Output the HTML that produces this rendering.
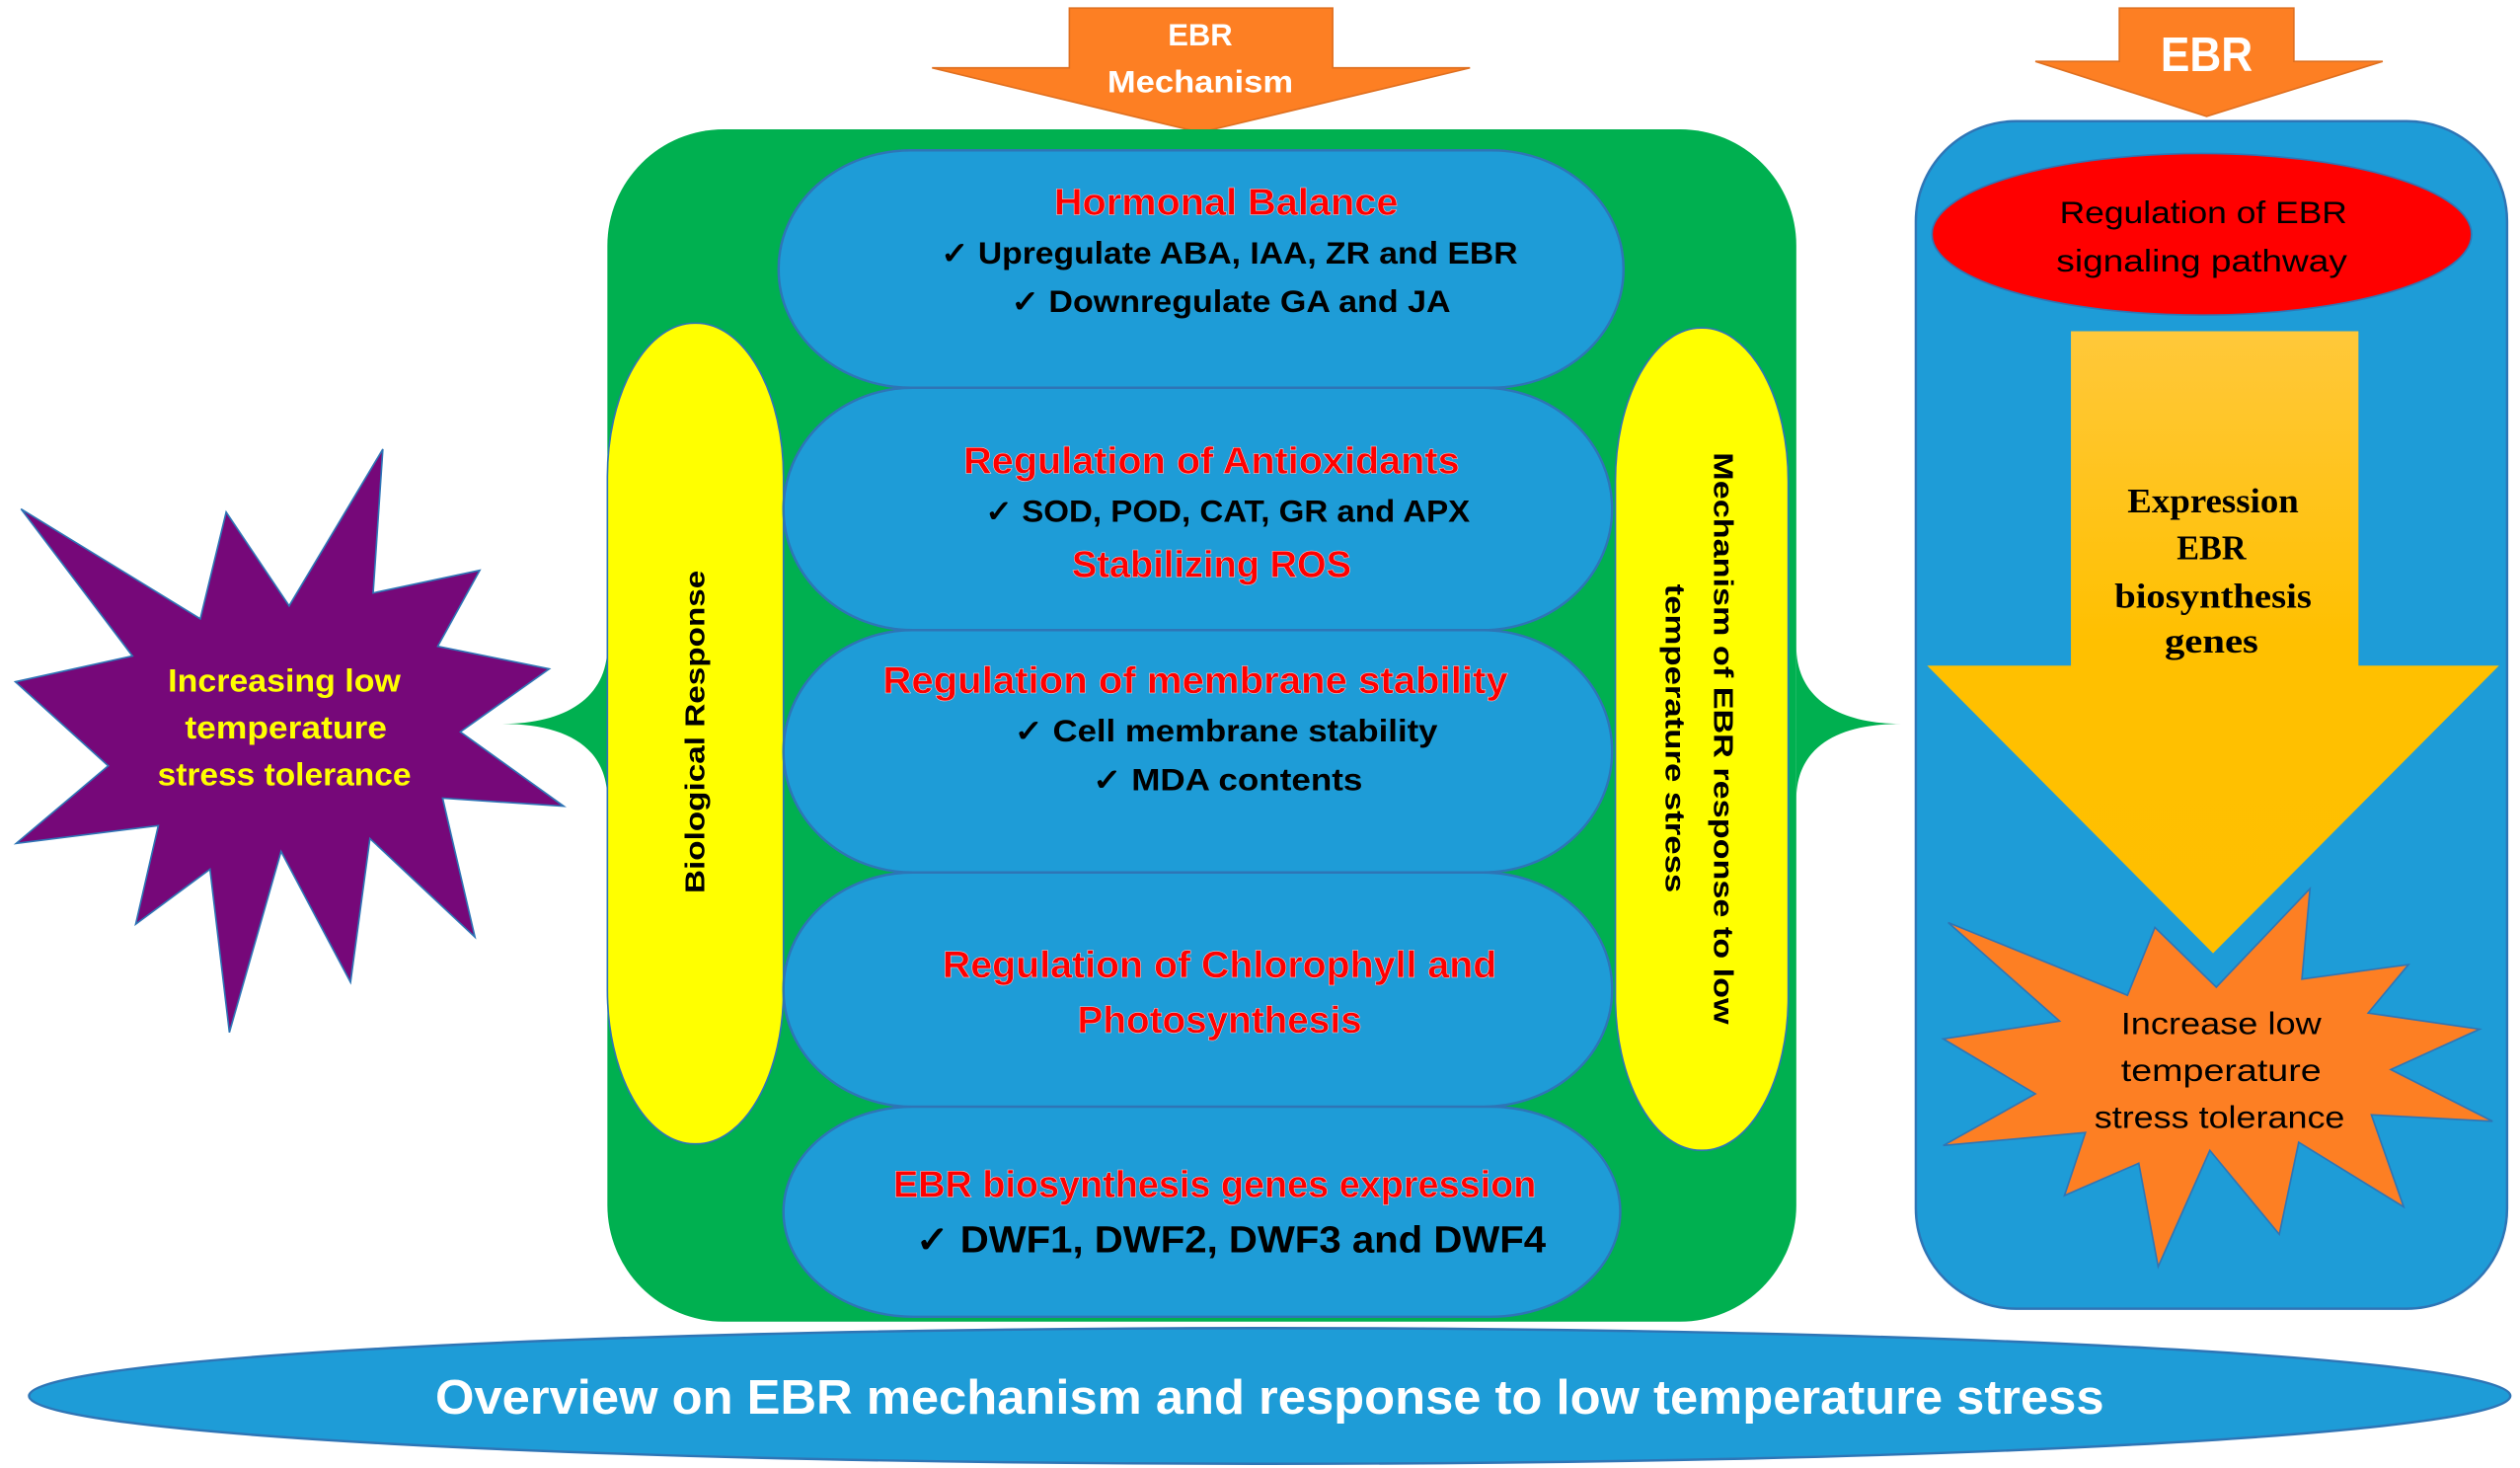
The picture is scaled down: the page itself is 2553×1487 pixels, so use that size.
<!DOCTYPE html>
<html><head><meta charset="utf-8">
<style>
html,body{margin:0;padding:0;background:#fff;}
svg{display:block;}
text{font-family:"Liberation Sans",sans-serif;font-weight:bold;}
</style></head>
<body>
<svg width="2553" height="1487" viewBox="0 0 1560 908.6" xmlns="http://www.w3.org/2000/svg">
<defs>
<linearGradient id="yg" x1="0" y1="0" x2="0" y2="1">
<stop offset="0" stop-color="#ffc83a"/><stop offset="0.5" stop-color="#ffc000"/><stop offset="1" stop-color="#ffbf00"/>
</linearGradient>
</defs>
<rect width="1560" height="908.6" fill="#fff"/>

<!-- top arrow 1 -->
<polygon points="662,5 825,5 825,42 910,42 743,82 577,42 662,42" fill="#fd7f23" stroke="#e07020" stroke-width="1"/>
<text x="743" y="28" fill="#fff" font-size="19" text-anchor="middle" textLength="40" lengthAdjust="spacingAndGlyphs">EBR</text>
<text x="743" y="57" fill="#fff" font-size="19" text-anchor="middle" textLength="115" lengthAdjust="spacingAndGlyphs">Mechanism</text>

<!-- top arrow 2 -->
<polygon points="1312,5 1420,5 1420,38 1475,38 1366,72 1260,38 1312,38" fill="#fd7f23" stroke="#e07020" stroke-width="1"/>
<text x="1366" y="44" fill="#fff" font-size="30" text-anchor="middle" textLength="57" lengthAdjust="spacingAndGlyphs">EBR</text>

<!-- braces -->
<path d="M376,400 C376,432 350,448 311,448 C350,448 376,462 376,495 Z" fill="#00b050"/>
<path d="M1112,400 C1112,432 1138,448 1177,448 C1138,448 1112,462 1112,495 Z" fill="#00b050"/>

<!-- green box -->
<rect x="376" y="80" width="736" height="738" rx="72" ry="72" fill="#00b050"/>

<!-- yellow pills -->
<rect x="376" y="200" width="109" height="508" rx="54" ry="95" fill="#ffff00" stroke="#2e75b6" stroke-width="1"/>
<rect x="1000" y="203" width="107" height="509" rx="53" ry="95" fill="#ffff00" stroke="#2e75b6" stroke-width="1"/>

<!-- blue pills -->
<g fill="#1e9cd7" stroke="#2e75b6" stroke-width="1.5">
<rect x="482" y="93" width="523" height="147" rx="82" ry="73"/>
<rect x="485" y="240" width="513" height="150" rx="80" ry="75"/>
<rect x="485" y="390" width="513" height="150" rx="80" ry="75"/>
<rect x="485" y="540" width="513" height="145" rx="80" ry="72"/>
<rect x="485" y="685" width="518" height="130" rx="80" ry="65"/>
</g>

<g font-size="23" fill="#ff0000" text-anchor="middle" stroke="#ffd0d0" stroke-width="0.3">
<text x="759" y="133" textLength="213" lengthAdjust="spacingAndGlyphs">Hormonal Balance</text>
<text x="750" y="293" textLength="307" lengthAdjust="spacingAndGlyphs">Regulation of Antioxidants</text>
<text x="750" y="357" textLength="173" lengthAdjust="spacingAndGlyphs">Stabilizing ROS</text>
<text x="740" y="429" textLength="387" lengthAdjust="spacingAndGlyphs">Regulation of membrane stability</text>
<text x="755" y="605" textLength="343" lengthAdjust="spacingAndGlyphs">Regulation of Chlorophyll and</text>
<text x="755" y="639" textLength="176" lengthAdjust="spacingAndGlyphs">Photosynthesis</text>
<text x="752" y="741" textLength="398" lengthAdjust="spacingAndGlyphs">EBR biosynthesis genes expression</text>
</g>
<g font-size="19" fill="#000" text-anchor="middle">
<text x="761" y="163" textLength="357" lengthAdjust="spacingAndGlyphs">✓ Upregulate ABA, IAA, ZR and EBR</text>
<text x="762" y="193" textLength="272" lengthAdjust="spacingAndGlyphs">✓ Downregulate GA and JA</text>
<text x="760" y="323" textLength="300" lengthAdjust="spacingAndGlyphs">✓ SOD, POD, CAT, GR and APX</text>
<text x="759" y="459" textLength="262" lengthAdjust="spacingAndGlyphs">✓ Cell membrane stability</text>
<text x="760" y="489" textLength="167" lengthAdjust="spacingAndGlyphs">✓ MDA contents</text>
<text x="762" y="775" font-size="23" textLength="390" lengthAdjust="spacingAndGlyphs">✓ DWF1, DWF2, DWF3 and DWF4</text>
</g>

<!-- vertical labels -->
<text transform="translate(436,453) rotate(-90)" font-family="DejaVu Sans" font-size="17" fill="#000" text-anchor="middle" textLength="200" lengthAdjust="spacingAndGlyphs">Biological Response</text>
<text transform="translate(1061,457) rotate(90)" font-family="DejaVu Sans" font-size="17" fill="#000" text-anchor="middle" textLength="354" lengthAdjust="spacingAndGlyphs">Mechanism of EBR response to low</text>
<text transform="translate(1031,457) rotate(90)" font-family="DejaVu Sans" font-size="17" fill="#000" text-anchor="middle" textLength="191" lengthAdjust="spacingAndGlyphs">temperature stress</text>

<!-- purple star -->
<polygon points="237,278 231,367 297,353 271,400 340,414 285,453 349,499 274,494 294,580 229,519 217,608 174,527 142,639 130,538 84,572 98,511 10,522 67,474 9.5,422 82,406 13,315 124,383 140,317 179,375" fill="#760879" stroke="#2e75b6" stroke-width="1"/>
<g font-size="20" fill="#ffff00" text-anchor="middle">
<text x="176" y="428" textLength="144" lengthAdjust="spacingAndGlyphs">Increasing low</text>
<text x="177" y="457" textLength="125" lengthAdjust="spacingAndGlyphs">temperature</text>
<text x="176" y="486" textLength="157" lengthAdjust="spacingAndGlyphs">stress tolerance</text>
</g>

<!-- right panel -->
<rect x="1186" y="75" width="366" height="735" rx="62" ry="62" fill="#1e9cd7" stroke="#2e75b6" stroke-width="1.5"/>
<ellipse cx="1363" cy="145" rx="167" ry="50" fill="#ff0000" stroke="#2e75b6" stroke-width="1"/>
<g font-size="19" fill="#000" text-anchor="middle" font-weight="normal">
<text x="1364" y="138" textLength="178" lengthAdjust="spacingAndGlyphs" style="font-weight:normal">Regulation of EBR</text>
<text x="1363" y="168" textLength="180" lengthAdjust="spacingAndGlyphs" style="font-weight:normal">signaling pathway</text>
</g>
<polygon points="1282,205 1460,205 1460,412 1547,412 1370,590 1193,412 1282,412" fill="url(#yg)"/>
<g font-family="Liberation Serif" font-size="21" fill="#000" text-anchor="middle">
<text x="1370" y="317" style="font-family:'Liberation Serif',serif" textLength="106" lengthAdjust="spacingAndGlyphs">Expression</text>
<text x="1369" y="346" style="font-family:'Liberation Serif',serif" textLength="43" lengthAdjust="spacingAndGlyphs">EBR</text>
<text x="1370" y="376" style="font-family:'Liberation Serif',serif" textLength="122" lengthAdjust="spacingAndGlyphs">biosynthesis</text>
<text x="1369" y="404" style="font-family:'Liberation Serif',serif" textLength="58" lengthAdjust="spacingAndGlyphs">genes</text>
</g>

<!-- orange star -->
<polygon points="1430,550 1425,606 1491,597 1466,627 1535,637 1480,662 1543,694 1468,690 1488,747 1423,707 1411,764 1368,712 1336,784 1324,720 1278,740 1291,701 1203,709 1260,677 1203,643 1275,632 1206,571 1317,616 1334,574 1372,611" fill="#fd7f23" stroke="#2e75b6" stroke-width="1"/>
<g font-size="19" fill="#000" text-anchor="middle">
<text x="1375" y="640" style="font-weight:normal" textLength="124" lengthAdjust="spacingAndGlyphs">Increase low</text>
<text x="1375" y="669" style="font-weight:normal" textLength="124" lengthAdjust="spacingAndGlyphs">temperature</text>
<text x="1374" y="698" style="font-weight:normal" textLength="155" lengthAdjust="spacingAndGlyphs">stress tolerance</text>
</g>

<!-- bottom ellipse -->
<ellipse cx="786" cy="864" rx="768" ry="42" fill="#1e9cd7" stroke="#2e75b6" stroke-width="1.5"/>
<text x="786" y="875" font-size="30" fill="#fff" text-anchor="middle" textLength="1033" lengthAdjust="spacingAndGlyphs">Overview on EBR mechanism and response to low temperature stress</text>
</svg>
</body></html>
